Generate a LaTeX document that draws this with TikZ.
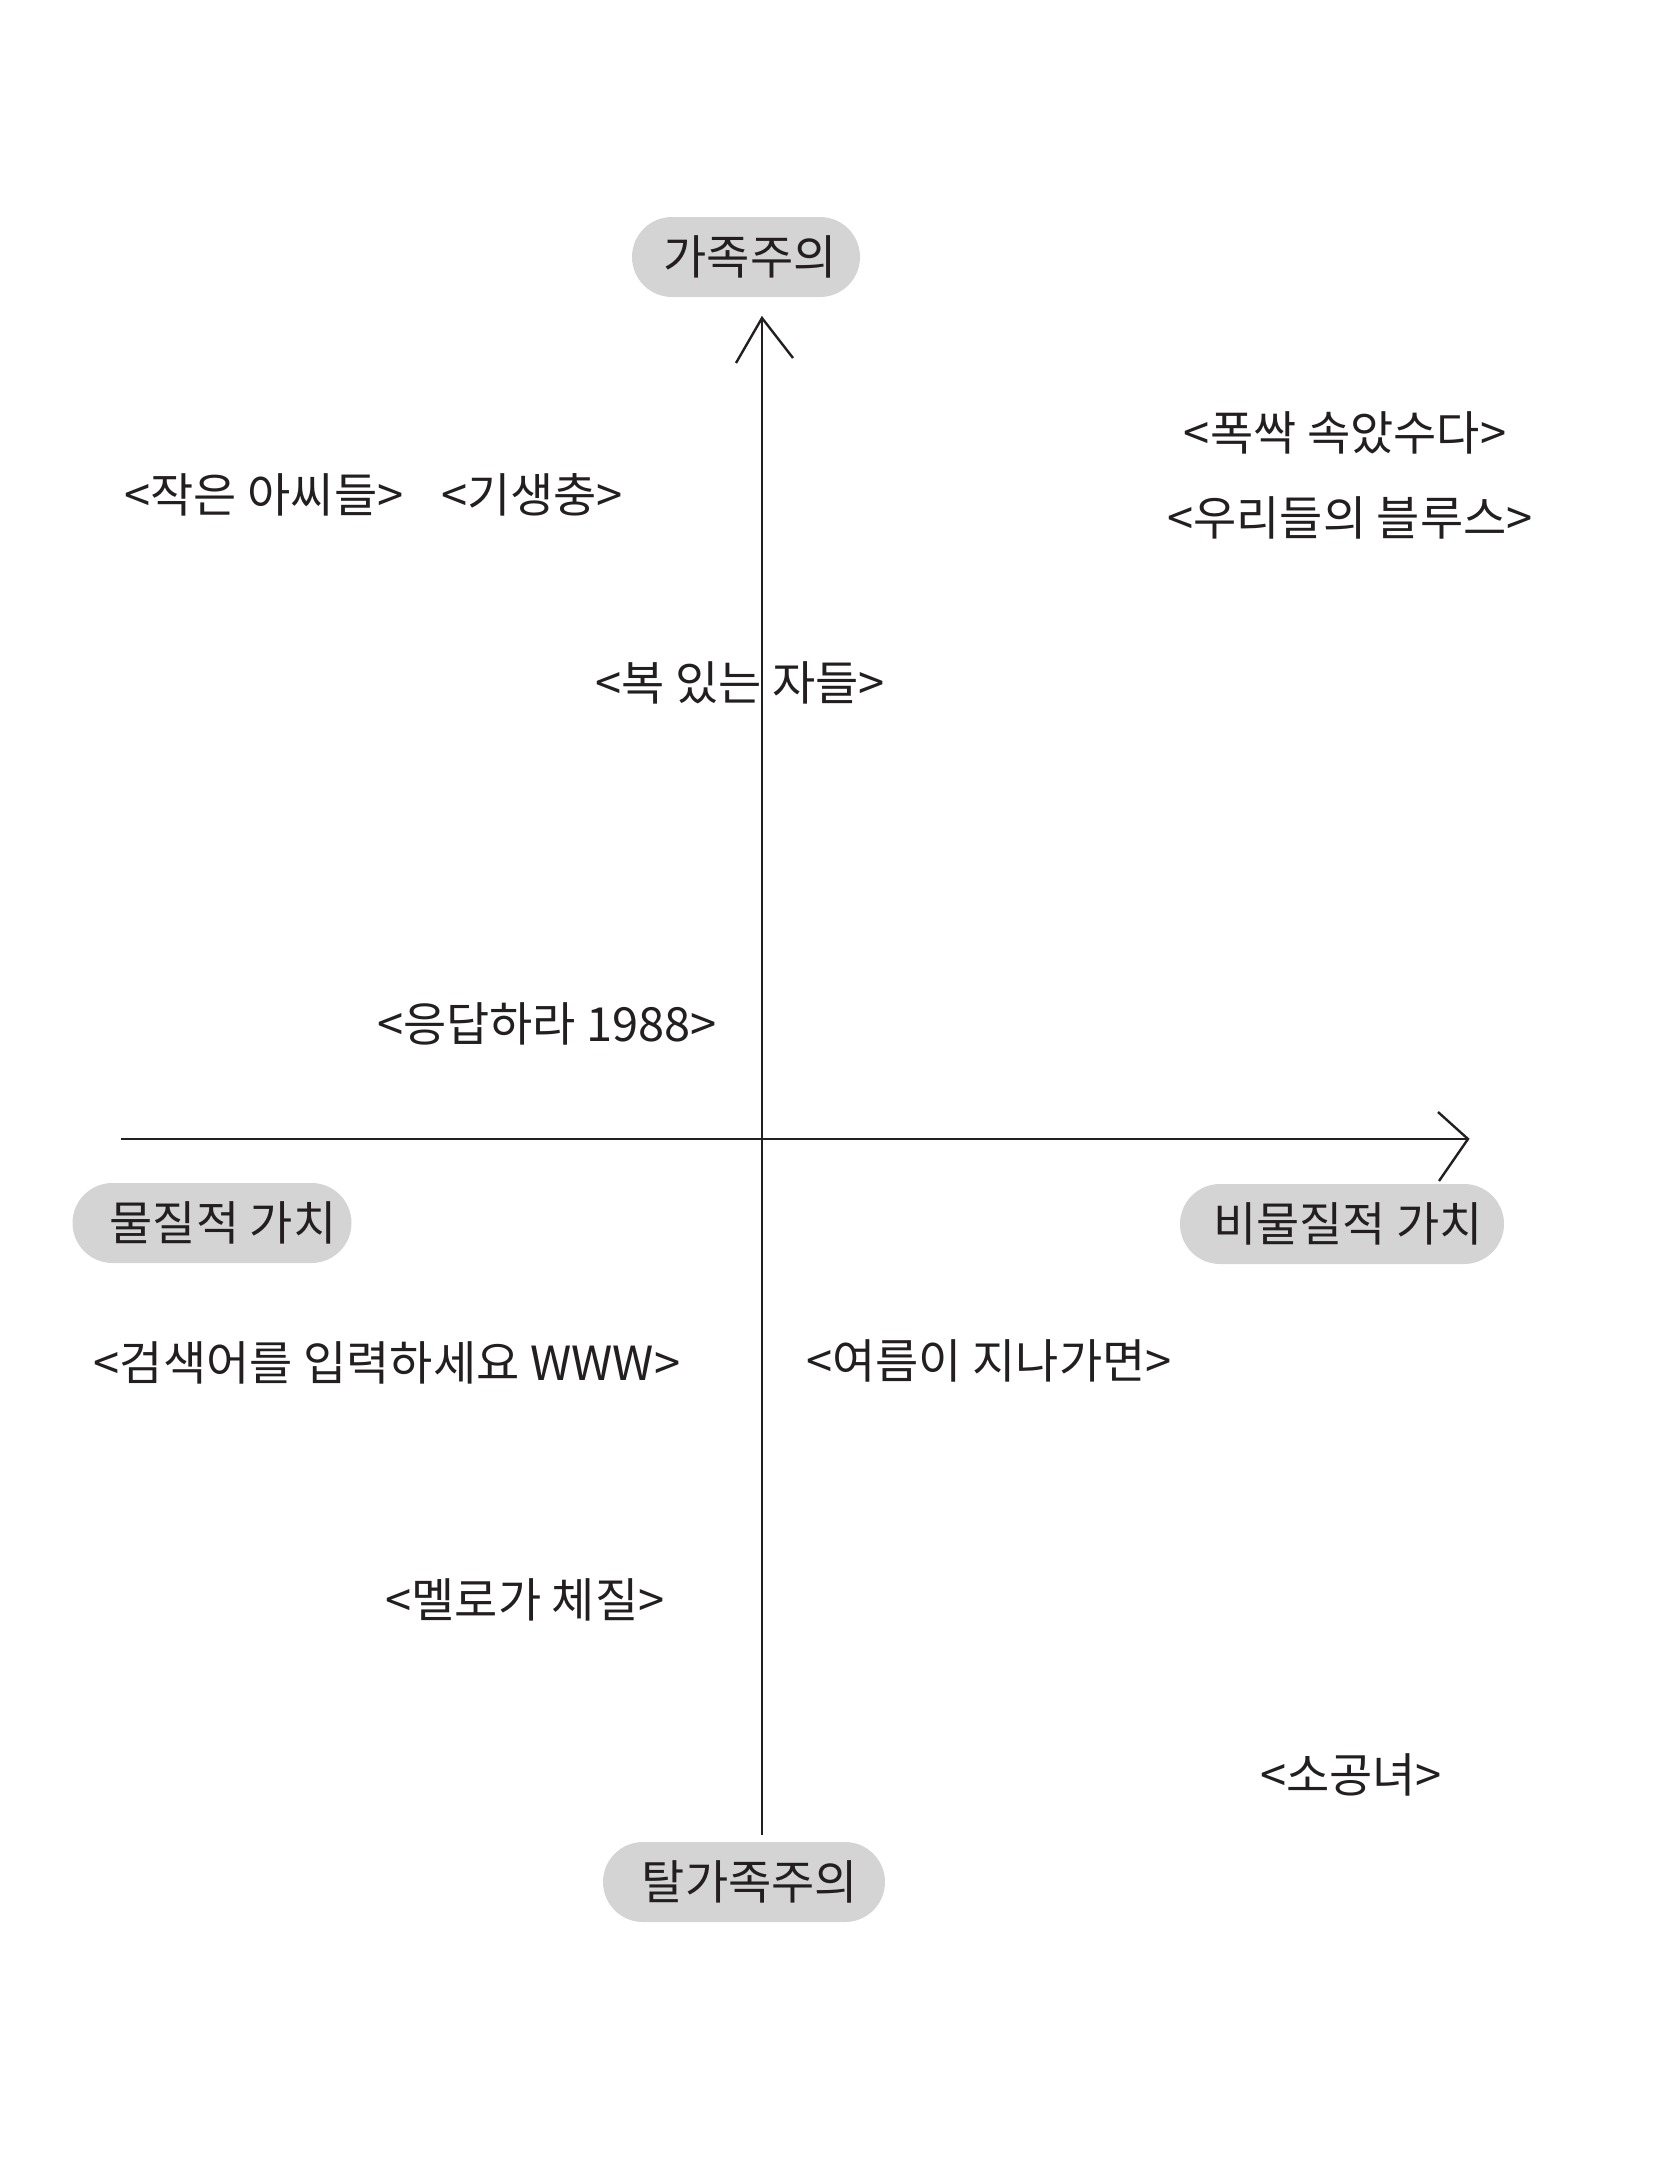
\documentclass[tikz,border=0pt]{standalone}
\usepackage{fontspec}
\setmainfont{Noto Sans CJK KR}
\definecolor{pillgray}{RGB}{212,212,212}
\definecolor{ink}{RGB}{35,31,32}
\begin{document}
\begin{tikzpicture}[x=0.5pt,y=-0.5pt,
  lbl/.style={font=\fontsize{23.5}{28}\selectfont, inner sep=0pt, text=ink},
  pill/.style={lbl, fill=pillgray, rounded corners=20pt, minimum height=40pt},
  axis/.style={line width=1.2pt, draw=ink, line join=miter}]
\useasboundingbox (0,0) rectangle (1668,2157);
% pills
\node[pill, minimum width=114pt] (fam) at (746,257) {\hspace{4pt}가족주의};
\node[pill, minimum width=139.5pt] (mat) at (212,1223) {\hspace{11pt}물질적 가치};
\node[pill, minimum width=162pt] (nonmat) at (1342,1224) {\hspace{6pt}비물질적 가치};
\node[pill, minimum width=141pt] (post) at (744,1882) {\hspace{6pt}탈가족주의};
% axes
\coordinate (vtop) at (762,318);
\coordinate (vbot) at (762,1835);
\coordinate (hl) at (121,1139);
\coordinate (hr) at (1468,1139);
\draw[axis] (vbot) -- (vtop);
\draw[axis] (hl) -- (hr);
\coordinate (vhl) at (736,363);
\coordinate (vhr) at (793,358);
\draw[axis] (vhl) -- (vtop) -- (vhr);
\coordinate (hhu) at (1438,1112);
\coordinate (hhd) at (1439,1181);
\draw[axis] (hhu) -- (hr) -- (hhd);
% titles
\node[lbl] (t1) at (1345,433) {<폭싹 속았수다>};
\node[lbl] (t2) at (1350,518) {<우리들의 블루스>};
\node[lbl] (t3) at (264,495) {<작은 아씨들>};
\node[lbl] (t4) at (532,495) {<기생충>};
\node[lbl] (t5) at (740,683) {<복 있는 자들>};
\node[lbl] (t6) at (547,1024) {<응답하라 1988>};
\node[lbl] (t7) at (387,1363) {<검색어를 입력하세요 WWW>};
\node[lbl] (t8) at (989,1361) {<여름이 지나가면>};
\node[lbl] (t9) at (525,1600) {<멜로가 체질>};
\node[lbl] (t10) at (1351,1775) {<소공녀>};
\end{tikzpicture}
\end{document}
